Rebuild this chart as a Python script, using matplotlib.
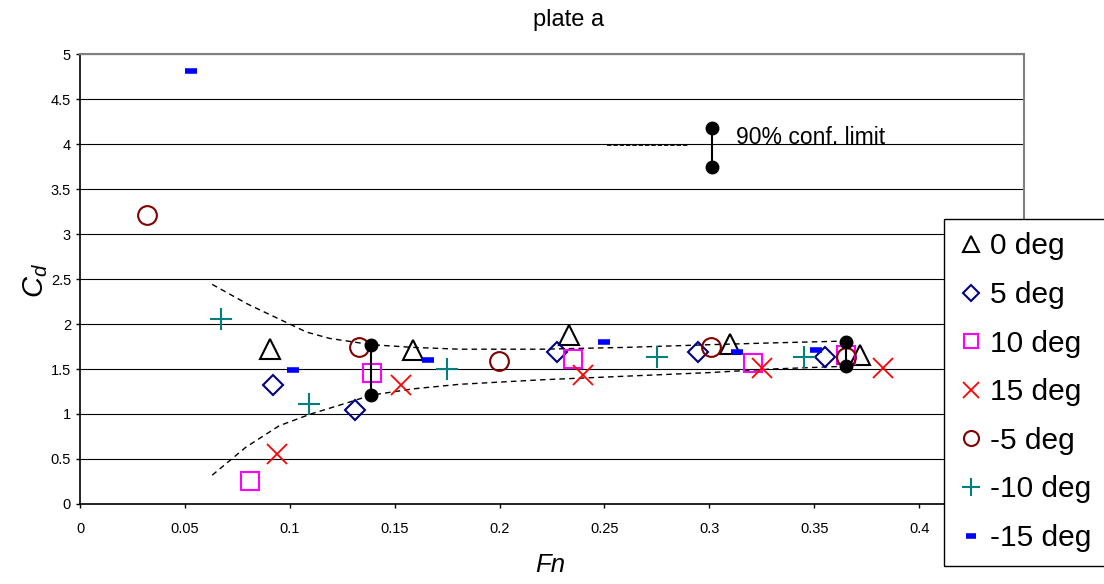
import numpy as np
import matplotlib
matplotlib.use('Agg')
import matplotlib.pyplot as plt

plt.rcParams['font.family'] = ['Liberation Sans', 'DejaVu Sans']
plt.rcParams['mathtext.fontset'] = 'custom'
plt.rcParams['mathtext.it'] = 'Liberation Sans:italic'
plt.rcParams['mathtext.rm'] = 'Liberation Sans'

# Data: (Fn, Cd) per yaw angle
fn_0 = [0.0905, 0.1586, 0.233, 0.310, 0.372]
cd_0 = [1.72, 1.71, 1.88, 1.78, 1.66]

fn_5 = [0.092, 0.131, 0.2276, 0.2948, 0.355]
cd_5 = [1.32, 1.04, 1.69, 1.69, 1.63]

fn_10 = [0.081, 0.139, 0.235, 0.321, 0.365]
cd_10 = [0.26, 1.46, 1.61, 1.57, 1.66]

fn_15 = [0.094, 0.153, 0.240, 0.325, 0.383]
cd_15 = [0.56, 1.32, 1.43, 1.51, 1.51]

fn_m5 = [0.032, 0.133, 0.1995, 0.301, 0.365]
cd_m5 = [3.21, 1.74, 1.59, 1.74, 1.63]

fn_m10 = [0.067, 0.109, 0.175, 0.275, 0.345]
cd_m10 = [2.06, 1.11, 1.50, 1.63, 1.63]

fn_m15 = [0.053, 0.1014, 0.166, 0.250, 0.313, 0.351]
cd_m15 = [4.81, 1.49, 1.60, 1.80, 1.69, 1.71]

# 90% confidence limit envelopes (dashed)
env_up_fn = [0.063, 0.080, 0.099, 0.108, 0.119, 0.139, 0.159, 0.181, 0.22, 0.26, 0.30, 0.33, 0.364]
env_up_cd = [2.44, 2.22, 2.01, 1.91, 1.84, 1.77, 1.74, 1.72, 1.72, 1.74, 1.77, 1.79, 1.81]
env_lo_fn = [0.063, 0.079, 0.095, 0.110, 0.124, 0.139, 0.159, 0.181, 0.22, 0.26, 0.30, 0.33, 0.364]
env_lo_cd = [0.32, 0.63, 0.87, 1.00, 1.10, 1.21, 1.28, 1.33, 1.38, 1.42, 1.46, 1.50, 1.53]

# error bars with black dots
bar_fn = [0.1386, 0.365]
bar_lo = [1.21, 1.53]
bar_hi = [1.77, 1.80]

# in-plot key for the confidence limit
key_fn = 0.3015
key_lo, key_hi = 3.74, 4.18
key_dash_fn = [0.251, 0.290]
key_dash_cd = [3.99, 3.99]

# 0.45 label sits under the legend in the original, so it is left blank
xtick_labels = ['0', '0.05', '0.1', '0.15', '0.2', '0.25', '0.3', '0.35', '0.4', '']
ytick_labels = ['0', '0.5', '1', '1.5', '2', '2.5', '3', '3.5', '4', '4.5', '5']

fig = plt.figure(figsize=(11.04, 5.84), dpi=100)
ax = fig.add_axes([0.0725, 0.137, 0.855, 0.7705])

ax.set_xlim(0, 0.45)
ax.set_ylim(0, 5)
ax.set_xticks(np.arange(0, 0.451, 0.05))
ax.set_xticklabels(xtick_labels)
ax.set_yticks(np.arange(0, 5.01, 0.5))
ax.set_yticklabels(ytick_labels)
ax.tick_params(direction='out', length=3, width=1, labelsize=10.5, colors='black')
ax.tick_params(axis='x', pad=10)
ax.yaxis.grid(True, color='black', linewidth=0.8)
ax.set_axisbelow(True)
for s in ['top', 'right']:
    ax.spines[s].set_color('#808080')
    ax.spines[s].set_linewidth(1.5)
for s in ['left', 'bottom']:
    ax.spines[s].set_color('black')
    ax.spines[s].set_linewidth(1.2)

# envelopes
ax.plot(env_up_fn, env_up_cd, '--', color='black', lw=1.0, dashes=(4, 3))
ax.plot(env_lo_fn, env_lo_cd, '--', color='black', lw=1.0, dashes=(4, 3))

# series
ax.plot(fn_0, cd_0, ls='none', marker='^', ms=15, mfc='none', mec='black', mew=1.5, label='0 deg')
ax.plot(fn_5, cd_5, ls='none', marker='D', ms=10, mfc='none', mec='#000080', mew=1.5, label='5 deg')
ax.plot(fn_10, cd_10, ls='none', marker='s', ms=12.5, mfc='none', mec='#FF00FF', mew=1.5, label='10 deg')
ax.plot(fn_15, cd_15, ls='none', marker='x', ms=14, mec='#FF0000', mew=1.3, label='15 deg')
ax.plot(fn_m5, cd_m5, ls='none', marker='o', ms=13.5, mfc='none', mec='#800000', mew=1.5, label='-5 deg')
ax.plot(fn_m10, cd_m10, ls='none', marker='+', ms=16, mec='#008080', mew=1.5, label='-10 deg')
ax.plot(fn_m15, cd_m15, ls='none', marker='_', ms=9, mec='#0000FF', mew=4, label='-15 deg')

# confidence bars
for f, lo, hi in zip(bar_fn, bar_lo, bar_hi):
    ax.plot([f, f], [lo, hi], color='black', lw=1.5, marker='o', ms=9, mfc='black', mec='black')

# key
ax.plot([key_fn, key_fn], [key_lo, key_hi], color='black', lw=1.5, marker='o', ms=9, mfc='black', mec='black')
ax.plot(key_dash_fn, key_dash_cd, color='black', lw=1.3, dashes=(2.5, 1))
ax.text(0.3125, 4.07, '90% conf. limit', fontsize=16.5, va='center', ha='left')

fig.text(0.515, 0.966, 'plate a', ha='center', va='center', fontsize=17)
fig.text(0.032, 0.52, r'$C_d$', rotation=90, ha='center', va='center', fontsize=21)
fig.text(0.498, 0.033, 'Fn', style='italic', ha='center', va='center', fontsize=18.5)

leg = fig.legend(loc='upper left', bbox_to_anchor=(0.855, 0.625), fontsize=21.5,
                 frameon=True, fancybox=False, edgecolor='black', framealpha=1,
                 handlelength=0.9, handletextpad=0.2, labelspacing=0.69,
                 borderpad=0.45, markerscale=0.8, borderaxespad=0)
leg.get_frame().set_linewidth(1.0)

fig.savefig('out.png', dpi=100)
